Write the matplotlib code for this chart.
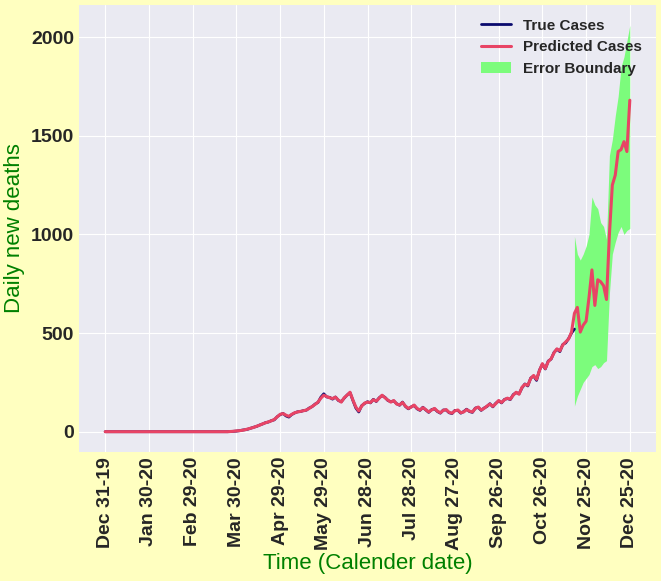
import numpy as np
import matplotlib.pyplot as plt

###############################################

tick_labels = ['Dec 31-19', 'Jan 30-20', 'Feb 29-20', 'Mar 30-20', 'Apr 29-20',
               'May 29-20', 'Jun 28-20', 'Jul 28-20', 'Aug 27-20', 'Sep 26-20',
               'Oct 26-20', 'Nov 25-20', 'Dec 25-20']

# predicted daily deaths, every 2nd day from Dec 31-19
predicted = [0, 0, 0, 0, 0, 0, 0, 0, 0, 0,
             0, 0, 0, 0, 0, 0, 0, 0, 0, 0,
             0, 0, 0, 0, 0, 0, 0, 0, 0, 0,
             0, 0, 0, 0, 0, 0, 0, 0, 0, 0,
             0, 0, 0, 1, 2, 4, 5, 7, 10, 14,
             18, 22, 28, 33, 40, 45, 50, 55, 62, 75,
             88, 92, 84, 78, 88, 96, 100, 103, 106, 110,
             118, 128, 138, 150, 170, 185, 178, 172, 168, 175,
             160, 150, 172, 185, 200, 160, 125, 105, 130, 145,
             150, 148, 162, 155, 170, 185, 172, 160, 150, 158,
             140, 136, 148, 130, 118, 125, 135, 118, 110, 122,
             112, 100, 110, 118, 104, 96, 108, 112, 98, 94,
             106, 110, 96, 100, 112, 104, 100, 118, 125, 110,
             118, 130, 140, 128, 142, 158, 148, 162, 170, 165,
             185, 200, 190, 225, 240, 235, 270, 285, 265, 310,
             345, 320, 355, 370, 400, 420, 410, 440, 455, 470,
             505, 600, 630, 505, 540, 560, 680, 820, 640, 770,
             760, 740, 670, 1000, 1250, 1300, 1420, 1430, 1470, 1420,
             1680]

# true daily deaths, every 2nd day until Nov 17-20
true = [0, 0, 0, 0, 0, 0, 0, 0, 0, 0,
        0, 0, 0, 0, 0, 0, 0, 0, 0, 0,
        0, 0, 0, 0, 0, 0, 0, 0, 0, 0,
        0, 0, 0, 0, 0, 0, 0, 0, 0, 0,
        0, 0, 0, 1, 2, 3, 5, 8, 10, 13,
        18, 23, 27, 34, 39, 46, 49, 56, 60, 76,
        86, 93, 80, 74, 87, 95, 101, 102, 107, 109,
        120, 127, 140, 148, 175, 192, 176, 174, 165, 176,
        158, 152, 170, 186, 198, 158, 120, 100, 132, 143,
        152, 146, 164, 153, 172, 183, 174, 158, 152, 156,
        142, 134, 150, 128, 116, 126, 133, 116, 108, 124,
        110, 98, 112, 116, 102, 94, 110, 110, 96, 92,
        108, 108, 94, 102, 114, 102, 98, 120, 123, 108,
        120, 128, 142, 126, 144, 156, 146, 164, 168, 163,
        188, 198, 192, 222, 242, 232, 272, 282, 260, 312,
        342, 318, 358, 368, 402, 418, 406, 442, 450, 472,
        500, 520]

# error band, every 2nd day from Nov 17-20
band_upper = [990, 900, 870, 900, 940, 1000, 1190, 1150, 1130, 1060,
              1040, 975, 1400, 1480, 1600, 1700, 1850, 1900, 1980, 2060]
band_lower = [130, 180, 215, 250, 270, 290, 330, 340, 320, 330,
              350, 360, 700, 900, 960, 1010, 1040, 1000, 1020, 1030]

###############################################

day_pred = np.arange(0, 2*len(predicted), 2)
day_true = np.arange(0, 2*len(true), 2)
day_band = np.arange(day_true[-1], day_true[-1] + 2*len(band_upper), 2)

plt.style.use('seaborn-v0_8-darkgrid')
plt.rcParams['font.family'] = ['Liberation Sans', 'DejaVu Sans']

fig = plt.figure(figsize=(6.61, 5.81), dpi=100, facecolor='#FFFFC0')
ax = fig.add_axes([0.1195, 0.222, 0.873, 0.7695])

ax.plot(day_true, true, color='#0A0A6E', lw=2, label='True Cases')
ax.plot(day_pred, predicted, color='#E84465', lw=2.2, label='Predicted Cases')
ax.fill_between(day_band, band_lower, band_upper, color='#7CFC7C',
                lw=0, label='Error Boundary')

ax.set_xticks(np.arange(0, 361, 30))
ax.set_xticklabels(tick_labels, rotation=90, fontsize=14, fontweight='bold')
ax.set_yticks([0, 500, 1000, 1500, 2000])
ax.tick_params(axis='y', labelsize=14)
for t in ax.get_yticklabels():
    t.set_fontweight('bold')
ax.set_xlabel('Time (Calender date)', color='green', fontsize=16, labelpad=2)
ax.set_ylabel('Daily new deaths', color='green', fontsize=16, labelpad=4)

leg = ax.legend(loc='upper right', frameon=False, prop={'weight': 'bold', 'size': 11})

fig.savefig('out.png', facecolor=fig.get_facecolor())
